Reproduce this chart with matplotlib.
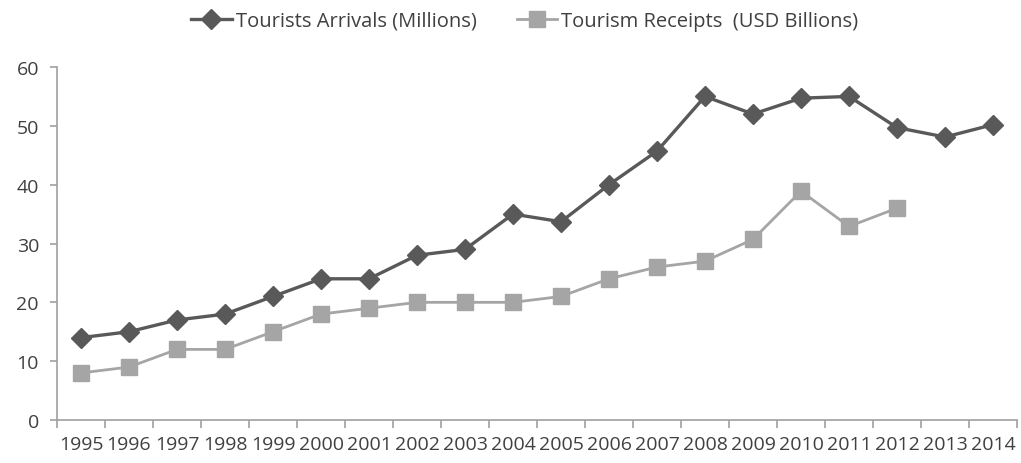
import matplotlib.pyplot as plt
import numpy as np

years = [str(y) for y in range(1995, 2015)]
arrivals = [14, 15, 17, 18, 21, 24, 24, 28, 29, 35, 33.7, 40, 45.7, 55, 52, 54.7, 55, 49.7, 48.1, 50.2]
receipts = [8, 9, 12, 12, 15, 18, 19, 20, 20, 20, 21, 24, 26, 27, 30.7, 38.9, 32.9, 36]

dark = '#595959'
light = '#a5a5a5'
txt = '#404040'

plt.rcParams['font.family'] = ['Open Sans', 'DejaVu Sans']

fig = plt.figure(figsize=(10.21, 4.64), dpi=100)
ax = fig.add_axes([57 / 1021, 1 - 421 / 464, 960 / 1021, 353 / 464])

x = np.arange(len(years))
ax.plot(x, arrivals, color=dark, lw=2.4, marker='D', markersize=10,
        label='Tourists Arrivals (Millions)')
ax.plot(x[:len(receipts)], receipts, color=light, lw=2, marker='s', markersize=11.5,
        label='Tourism Receipts  (USD Billions)')

ax.set_xlim(-0.5, len(years) - 0.5)
ax.set_ylim(0, 60)
ax.set_yticks(range(0, 61, 10))
ax.set_xticks(x)
ax.set_xticklabels(years)
ax.set_xticks(np.arange(-0.5, len(years), 1), minor=True)
ax.tick_params(axis='x', which='major', length=0, pad=11, labelsize=14, colors=txt)
ax.tick_params(axis='x', which='minor', length=6, color='#a0a0a0', width=1.2)
ax.tick_params(axis='y', length=5, color='#a0a0a0', width=1.2, labelsize=14, labelcolor=txt, pad=8)

for s in ['top', 'right']:
    ax.spines[s].set_visible(False)
for s in ['left', 'bottom']:
    ax.spines[s].set_color('#a0a0a0')
    ax.spines[s].set_linewidth(1.2)

fig.legend(loc='center', bbox_to_anchor=(0.514, 1 - 22 / 464), ncol=2, frameon=False,
           fontsize=14.5, labelcolor=txt, handlelength=2.0, columnspacing=2.0, handletextpad=0.2)

fig.savefig('out.png', dpi=100)
